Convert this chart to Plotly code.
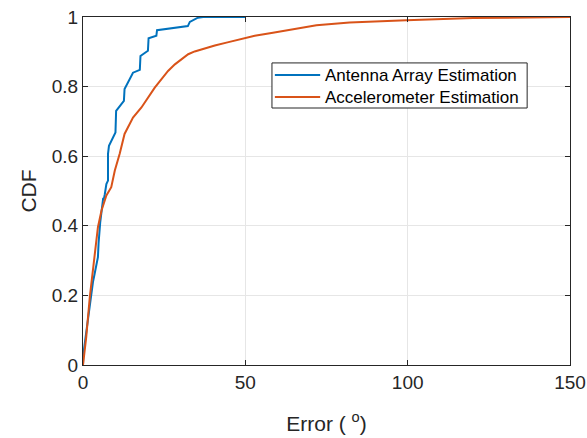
import plotly.graph_objects as go

# Empirical CDF of the orientation error for each estimation method
antenna_err = [0, 0.1, 0.8, 1.5, 2.2, 2.6, 3.1, 3.6, 4.2, 4.6, 4.8, 5.1, 5.3, 6.2, 6.5,
               6.7, 7.2, 7.7, 7.7, 8.0, 8.7, 10.0, 10.2, 12.6, 12.8, 15.4, 17.5, 17.7,
               20.0, 20.2, 22.6, 22.8, 32.3, 32.9, 35.4, 37.0, 50.0]
antenna_cdf = [0, 0.03, 0.08, 0.13, 0.18, 0.20, 0.24, 0.263, 0.29, 0.31, 0.35, 0.396, 0.41,
               0.478, 0.48, 0.49, 0.52, 0.53, 0.607, 0.63, 0.645, 0.668, 0.73, 0.759, 0.793,
               0.84, 0.848, 0.888, 0.903, 0.939, 0.946, 0.962, 0.974, 0.986, 0.998, 1.0, 1.0]

accel_err = [0, 0.5, 1.0, 2.1, 3.1, 4.0, 4.6, 5.7, 7.2, 8.7, 9.8, 11.3, 12.8, 15.4, 18.0,
             22.1, 26.2, 28.3, 30.3, 32.4, 34.4, 37.5, 40.6, 44.5, 48.3, 52.9, 58.5, 65.0,
             71.9, 82.1, 99.6, 120.1, 135.0, 150.0]
accel_cdf = [0, 0.04, 0.081, 0.196, 0.272, 0.34, 0.396, 0.444, 0.487, 0.511, 0.559, 0.607,
             0.664, 0.711, 0.74, 0.797, 0.845, 0.864, 0.879, 0.893, 0.901, 0.910, 0.918,
             0.927, 0.936, 0.946, 0.955, 0.966, 0.976, 0.984, 0.991, 0.997, 0.999, 1.0]

series_names = ["Antenna Array Estimation", "Accelerometer Estimation"]
series_colors = ["#0072BD", "#D95319"]

x_ticks = [0, 50, 100, 150]
y_ticks = [0, 0.2, 0.4, 0.6, 0.8, 1]
y_tick_text = ["0", "0.2", "0.4", "0.6", "0.8", "1"]

font_family = "Liberation Sans, Arial, sans-serif"
axis_color = "#262626"

fig = go.Figure()
for xs, ys, name, color in zip([antenna_err, accel_err], [antenna_cdf, accel_cdf],
                               series_names, series_colors):
    fig.add_trace(go.Scatter(x=xs, y=ys, mode="lines", name=name,
                             line=dict(color=color, width=2), showlegend=False))

axis_common = dict(
    showline=True, linecolor=axis_color, linewidth=1, mirror="ticks",
    ticks="inside", ticklen=5, tickcolor=axis_color,
    showgrid=True, gridcolor="#e6e6e6", gridwidth=1,
    zeroline=False, automargin=False,
    tickfont=dict(family=font_family, size=19, color=axis_color),
)

fig.update_xaxes(range=[0, 150], tickvals=x_ticks,
                 title=dict(text="Error ( <sup>o</sup>)",
                            font=dict(family=font_family, size=21, color=axis_color),
                            standoff=24),
                 **axis_common)
fig.update_yaxes(range=[0, 1], tickvals=y_ticks, ticktext=y_tick_text,
                 title=dict(text="CDF",
                            font=dict(family=font_family, size=21, color=axis_color),
                            standoff=9),
                 **axis_common)

# Boxed legend in the upper middle of the axes
box_x0, box_x1, box_y0, box_y1 = 0.388, 0.912, 0.7385, 0.868
sample_x0, sample_x1, text_x = 0.394, 0.487, 0.493
row_y = [0.833, 0.770]
shapes = [dict(type="rect", xref="paper", yref="paper",
               x0=box_x0, x1=box_x1, y0=box_y0, y1=box_y1,
               line=dict(color=axis_color, width=1), fillcolor="white", layer="above")]
annotations = []
for name, color, ry in zip(series_names, series_colors, row_y):
    shapes.append(dict(type="line", xref="paper", yref="paper",
                       x0=sample_x0, x1=sample_x1, y0=ry, y1=ry,
                       line=dict(color=color, width=2), layer="above"))
    annotations.append(dict(text=name, xref="paper", yref="paper", x=text_x, y=ry,
                            xanchor="left", yanchor="middle", showarrow=False,
                            font=dict(family=font_family, size=17, color="#000000")))

fig.update_layout(
    width=587, height=438,
    margin=dict(l=83, r=17, t=17, b=73),
    plot_bgcolor="white", paper_bgcolor="white",
    shapes=shapes, annotations=annotations,
    showlegend=False,
)

fig.write_html("out.html")
